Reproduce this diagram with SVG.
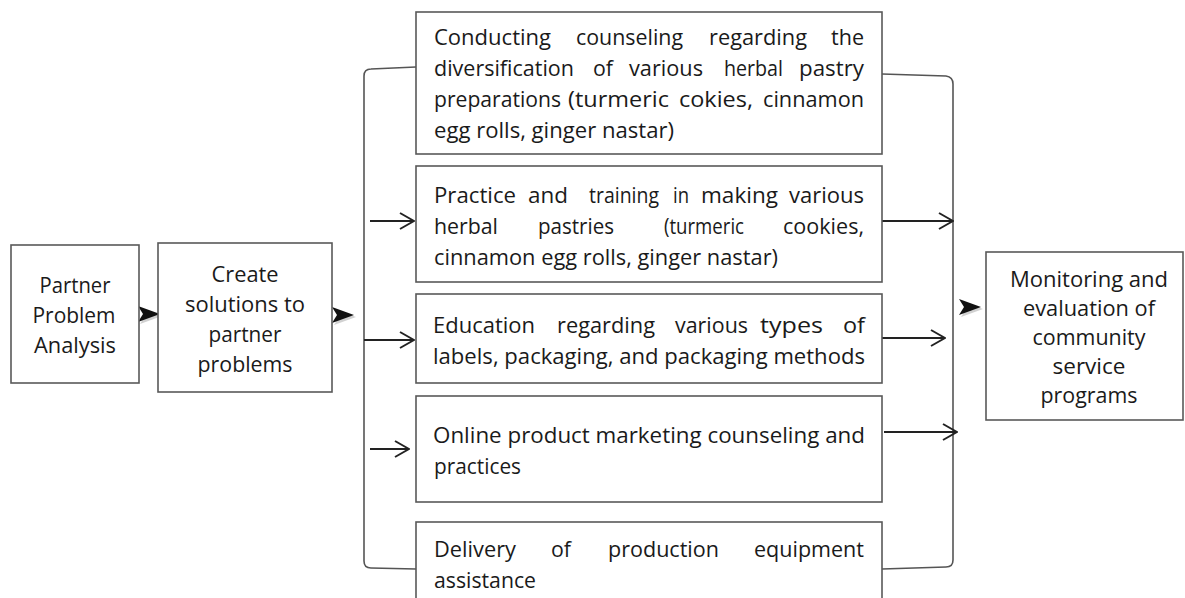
<svg xmlns="http://www.w3.org/2000/svg" width="1185" height="598" viewBox="0 0 1185 598">
<style>
.box{fill:#fff;stroke:#595959;stroke-width:1.6}
.t{font-family:"Open Sans","Noto Sans",sans-serif;font-size:22px;fill:#1a1a1a}
.c{text-anchor:middle}
.ln{fill:none;stroke:#222;stroke-width:2}
.br{fill:none;stroke:#555;stroke-width:1.6}
.thick{fill:#111}
.sh{fill:#999;opacity:.45}
</style>
<defs>
<marker id="open" viewBox="0 0 16 18" refX="15" refY="9" markerWidth="16" markerHeight="18" markerUnits="userSpaceOnUse" orient="auto">
<path d="M1,1 L15,9 L1,17" fill="none" stroke="#222" stroke-width="2"/>
</marker>
<path id="big" d="M0,-8 L22,0 L0,8 L5,0 Z"/>
</defs>

<g id="connectors">
<path class="br" d="M416,67 L371,69 Q364,69 364,76 L364,561 Q364,568 371,568 L416,569"/>
<path class="br" d="M882,74 L946,76 Q953,77 953,84 L953,560 Q953,567 946,567 L882,569"/>
<line class="ln" x1="364" y1="340" x2="414" y2="340" marker-end="url(#open)"/>
<line class="ln" x1="370" y1="221" x2="414" y2="221" marker-end="url(#open)"/>
<line class="ln" x1="370" y1="449" x2="409" y2="449" marker-end="url(#open)"/>
<line class="ln" x1="882" y1="221" x2="953" y2="221" marker-end="url(#open)"/>
<line class="ln" x1="882" y1="338" x2="945" y2="338" marker-end="url(#open)"/>
<line class="ln" x1="884" y1="432" x2="957" y2="432" marker-end="url(#open)"/>
<use href="#big" class="sh" transform="translate(140,316)"/>
<use href="#big" class="thick" transform="translate(138,314)"/>
<use href="#big" class="sh" transform="translate(334,317)"/>
<use href="#big" class="thick" transform="translate(332,315)"/>
<use href="#big" class="sh" transform="translate(961,309)"/>
<use href="#big" class="thick" transform="translate(959,307)"/>
</g>

<g id="n1">
<rect class="box" x="11" y="245" width="128" height="138"/>
<text class="t c" x="75" y="293" textLength="71" lengthAdjust="spacingAndGlyphs">Partner</text>
<text class="t c" x="74" y="323" textLength="83" lengthAdjust="spacingAndGlyphs">Problem</text>
<text class="t c" x="75" y="353" textLength="82" lengthAdjust="spacingAndGlyphs">Analysis</text>
</g>

<g id="n2">
<rect class="box" x="158" y="243" width="174" height="149"/>
<text class="t c" x="245" y="282" textLength="67" lengthAdjust="spacingAndGlyphs">Create</text>
<text class="t c" x="245" y="312" textLength="120" lengthAdjust="spacingAndGlyphs">solutions to</text>
<text class="t c" x="245" y="342" textLength="73" lengthAdjust="spacingAndGlyphs">partner</text>
<text class="t c" x="245" y="372" textLength="95" lengthAdjust="spacingAndGlyphs">problems</text>
</g>

<g id="n3">
<rect class="box" x="416" y="12" width="466" height="142"/>
<text class="t" x="434" y="45" textLength="117" lengthAdjust="spacingAndGlyphs">Conducting</text>
<text class="t" x="576" y="45" textLength="107" lengthAdjust="spacingAndGlyphs">counseling</text>
<text class="t" x="709" y="45" textLength="98" lengthAdjust="spacingAndGlyphs">regarding</text>
<text class="t" x="831" y="45" textLength="33" lengthAdjust="spacingAndGlyphs">the</text>
<text class="t" x="434" y="76" textLength="140" lengthAdjust="spacingAndGlyphs">diversification</text>
<text class="t" x="593" y="76" textLength="20" lengthAdjust="spacingAndGlyphs">of</text>
<text class="t" x="629" y="76" textLength="74" lengthAdjust="spacingAndGlyphs">various</text>
<text class="t" x="724" y="76" textLength="59" lengthAdjust="spacingAndGlyphs">herbal</text>
<text class="t" x="799" y="76" textLength="65" lengthAdjust="spacingAndGlyphs">pastry</text>
<text class="t" x="434" y="107" textLength="127" lengthAdjust="spacingAndGlyphs">preparations</text>
<text class="t" x="568" y="107" textLength="101" lengthAdjust="spacingAndGlyphs">(turmeric</text>
<text class="t" x="679" y="107" textLength="74" lengthAdjust="spacingAndGlyphs">cokies,</text>
<text class="t" x="763" y="107" textLength="101" lengthAdjust="spacingAndGlyphs">cinnamon</text>
<text class="t" x="434" y="138" textLength="240" lengthAdjust="spacingAndGlyphs">egg rolls, ginger nastar)</text>
</g>

<g id="n4">
<rect class="box" x="416" y="166" width="466" height="116"/>
<text class="t" x="434" y="203" textLength="82" lengthAdjust="spacingAndGlyphs">Practice</text>
<text class="t" x="528" y="203" textLength="40" lengthAdjust="spacingAndGlyphs">and</text>
<text class="t" x="589" y="203" textLength="70" lengthAdjust="spacingAndGlyphs">training</text>
<text class="t" x="673" y="203" textLength="16" lengthAdjust="spacingAndGlyphs">in</text>
<text class="t" x="701" y="203" textLength="77" lengthAdjust="spacingAndGlyphs">making</text>
<text class="t" x="789" y="203" textLength="75" lengthAdjust="spacingAndGlyphs">various</text>
<text class="t" x="434" y="234" textLength="64" lengthAdjust="spacingAndGlyphs">herbal</text>
<text class="t" x="538" y="234" textLength="76" lengthAdjust="spacingAndGlyphs">pastries</text>
<text class="t" x="664" y="234" textLength="80" lengthAdjust="spacingAndGlyphs">(turmeric</text>
<text class="t" x="783" y="234" textLength="81" lengthAdjust="spacingAndGlyphs">cookies,</text>
<text class="t" x="434" y="265" textLength="344" lengthAdjust="spacingAndGlyphs">cinnamon egg rolls, ginger nastar)</text>
</g>

<g id="n5">
<rect class="box" x="416" y="294" width="466" height="89"/>
<text class="t" x="433" y="333" textLength="102" lengthAdjust="spacingAndGlyphs">Education</text>
<text class="t" x="557" y="333" textLength="98" lengthAdjust="spacingAndGlyphs">regarding</text>
<text class="t" x="675" y="333" textLength="73" lengthAdjust="spacingAndGlyphs">various</text>
<text class="t" x="760" y="333" textLength="63" lengthAdjust="spacingAndGlyphs">types</text>
<text class="t" x="843" y="333" textLength="22" lengthAdjust="spacingAndGlyphs">of</text>
<text class="t" x="433" y="364" textLength="432" lengthAdjust="spacingAndGlyphs">labels, packaging, and packaging methods</text>
</g>

<g id="n6">
<rect class="box" x="416" y="396" width="466" height="106"/>
<text class="t" x="433" y="443" textLength="432" lengthAdjust="spacingAndGlyphs">Online product marketing counseling and</text>
<text class="t" x="434" y="474" textLength="87" lengthAdjust="spacingAndGlyphs">practices</text>
</g>

<g id="n7">
<rect class="box" x="416" y="522" width="466" height="90"/>
<text class="t" x="434" y="557" textLength="82" lengthAdjust="spacingAndGlyphs">Delivery</text>
<text class="t" x="551" y="557" textLength="20" lengthAdjust="spacingAndGlyphs">of</text>
<text class="t" x="608" y="557" textLength="111" lengthAdjust="spacingAndGlyphs">production</text>
<text class="t" x="754" y="557" textLength="110" lengthAdjust="spacingAndGlyphs">equipment</text>
<text class="t" x="434" y="588" textLength="102" lengthAdjust="spacingAndGlyphs">assistance</text>
</g>

<g id="n8">
<rect class="box" x="986" y="252" width="197" height="168"/>
<text class="t c" x="1089" y="287" textLength="158" lengthAdjust="spacingAndGlyphs">Monitoring and</text>
<text class="t c" x="1089" y="316" textLength="132" lengthAdjust="spacingAndGlyphs">evaluation of</text>
<text class="t c" x="1089" y="345" textLength="113" lengthAdjust="spacingAndGlyphs">community</text>
<text class="t c" x="1089" y="374" textLength="73" lengthAdjust="spacingAndGlyphs">service</text>
<text class="t c" x="1089" y="403" textLength="97" lengthAdjust="spacingAndGlyphs">programs</text>
</g>
</svg>
